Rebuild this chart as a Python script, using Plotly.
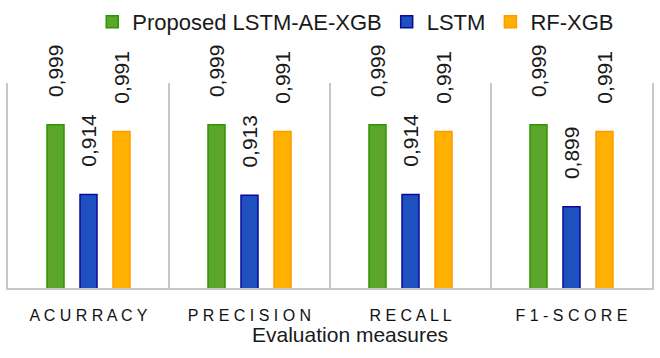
import plotly.graph_objects as go

categories = ["ACURRACY", "PRECISION", "RECALL", "F1-SCORE"]
tick_labels = ["A C U R R A C Y", "P R E C I S I O N", "R E C A L L", "F 1 - S C O R E"]
series_names = ["Proposed LSTM-AE-XGB", "LSTM", "RF-XGB"]
proposed = [0.999, 0.999, 0.999, 0.999]
lstm = [0.914, 0.913, 0.914, 0.899]
rfxgb = [0.991, 0.991, 0.991, 0.991]

fills = ["#5BA62B", "#1E50C0", "#FFB000"]
edges = ["#2E9600", "#0A0A9A", "#FF9A00"]

fig = go.Figure()
for name, vals, fc, ec in zip(series_names, [proposed, lstm, rfxgb], fills, edges):
    fig.add_trace(go.Bar(
        x=categories, y=vals, name=name,
        marker=dict(color=fc, line=dict(color=ec, width=1.5)),
        texttemplate="\u2002\u2009\u2009\u00a0%{y:.3f}",
        textposition="outside", textangle=-90, constraintext="none",
        cliponaxis=False,
        textfont=dict(family="Liberation Sans", size=21, color="#1a1a1a"),
    ))

fig.update_layout(
    width=660, height=358,
    margin=dict(l=8, r=8, t=83, b=70, autoexpand=False),
    barmode="group", bargap=0.385, bargroupgap=0.485,
    separators=",.",
    plot_bgcolor="white", paper_bgcolor="white",
    font=dict(family="Liberation Sans", color="#1a1a1a"),
    showlegend=True,
    legend=dict(orientation="h", xref="paper", yref="paper",
                x=0.54, xanchor="center", y=1.40, yanchor="top",
                font=dict(size=22, color="#1a1a1a"), itemwidth=30,
                traceorder="normal"),
    xaxis=dict(type="category", tickson="boundaries", showgrid=True,
               gridcolor="#C8C8C8", gridwidth=1.5, showline=True,
               linecolor="#C8C8C8", linewidth=2, ticks="", automargin=False,
               tickmode="array", tickvals=categories, ticktext=tick_labels,
               tickfont=dict(size=16, color="#111111"), ticklabelstandoff=12),
    yaxis=dict(range=[0.8, 1.05], showgrid=False, showticklabels=False,
               zeroline=False, showline=True, mirror=True, linecolor="#C8C8C8",
               linewidth=1.5, ticks="", automargin=False),
    annotations=[dict(text="Evaluation measures", xref="paper", yref="paper",
                      x=0.531, y=-0.226, xanchor="center", yanchor="middle",
                      showarrow=False, font=dict(size=21, color="#1a1a1a"))],
)

fig.write_html("out.html", config={"displayModeBar": False},
               post_script="document.body.style.margin='0';")
